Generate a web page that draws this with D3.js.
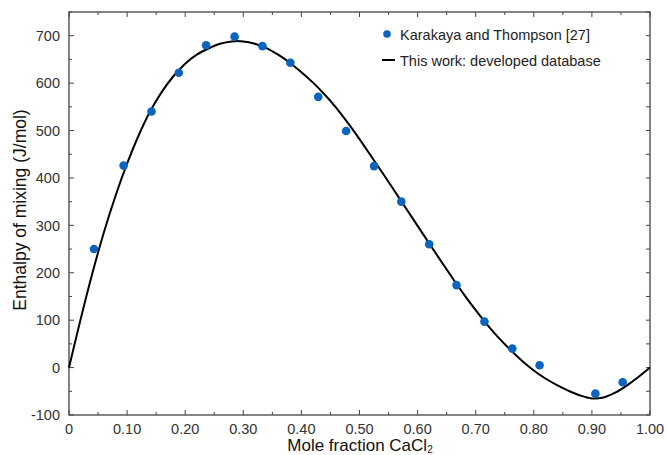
<!DOCTYPE html>
<html><head><meta charset="utf-8">
<script src="https://cdn.jsdelivr.net/npm/d3@7"></script>
<style>body{margin:0;background:#fff}svg{display:block}text{font-family:"Liberation Sans",Arial,sans-serif}</style>
</head><body><svg id="c" width="667" height="455"></svg>
<script>
const expX = [0.043,0.094,0.142,0.189,0.236,0.285,0.333,0.381,0.429,0.477,0.525,0.572,0.620,0.667,0.715,0.763,0.810,0.906,0.953];
const expY = [250,426,540,622,680,698,678,643,571,499,425,350,260,174,97,40,5,-55,-31];
const modelX = [0,0.02,0.04,0.06,0.08,0.10,0.12,0.14,0.16,0.18,0.20,0.22,0.24,0.26,0.28,0.30,0.32,0.34,0.36,0.38,0.40,0.42,0.44,0.46,0.48,0.50,0.52,0.54,0.56,0.58,0.60,0.62,0.64,0.66,0.68,0.70,0.72,0.74,0.76,0.78,0.80,0.82,0.84,0.86,0.88,0.90,0.92,0.94,0.96,0.98,1.00];
const modelY = [0,102,198,285,362,430,490,541,582,615,641,660,673,683,688,688,683,674,660,643,623,601,576,548,516,482,446,410,373,336,299,262,225,189,154,121,90,62,37,14,-6,-23,-37,-49,-59,-65,-63,-53,-38,-20,0];
const xTicks = [0,0.1,0.2,0.3,0.4,0.5,0.6,0.7,0.8,0.9,1.0];
const xTickLabels = ["0","0.10","0.20","0.30","0.40","0.50","0.60","0.70","0.80","0.90","1.00"];
const yTicks = [-100,0,100,200,300,400,500,600,700];
const legendLabels = ["Karakaya and Thompson [27]","This work: developed database"];

const svg = d3.select("#c");
const L=69,R=650,T=12,B=415;
const x = d3.scaleLinear().domain([0,1]).range([L,R]);
const y = d3.scaleLinear().domain([-100,750]).range([B,T]);
const blue="#0b64bd", ax="#444", tc="#333";

svg.append("rect").attr("x",L).attr("y",T).attr("width",R-L).attr("height",B-T)
  .attr("fill","none").attr("stroke",ax).attr("stroke-width",1.3);

const g = svg.append("g");
const xMinor = d3.range(0,1.0001,0.05);
const yMinor = d3.range(-100,750.1,50);
xMinor.forEach(v=>{
  const major = Math.abs(v*10-Math.round(v*10))<1e-6;
  const len = major?5:3;
  g.append("line").attr("x1",x(v)).attr("x2",x(v)).attr("y1",B).attr("y2",B-len).attr("stroke",ax);
  g.append("line").attr("x1",x(v)).attr("x2",x(v)).attr("y1",T).attr("y2",T+len).attr("stroke",ax);
});
yMinor.forEach(v=>{
  const major = v%100===0;
  const len = major?5:3;
  g.append("line").attr("y1",y(v)).attr("y2",y(v)).attr("x1",L).attr("x2",L+len).attr("stroke",ax);
  g.append("line").attr("y1",y(v)).attr("y2",y(v)).attr("x1",R).attr("x2",R-4).attr("stroke",ax);
});
xTicks.forEach((v,i)=>{
  svg.append("text").attr("x",x(v)).attr("y",433.5).attr("text-anchor","middle")
    .attr("font-size",14.5).attr("fill",tc).text(xTickLabels[i]);
});
yTicks.forEach(v=>{
  svg.append("text").attr("x",60).attr("y",y(v)+5.2).attr("text-anchor","end")
    .attr("font-size",14.5).attr("fill",tc).text(v);
});

const xt = svg.append("text").attr("x",360).attr("y",450.5).attr("text-anchor","middle")
  .attr("font-size",17).attr("fill","#111");
xt.append("tspan").text("Mole fraction CaCl");
xt.append("tspan").attr("font-size",10).attr("dy",2.5).text("2");
svg.append("text").attr("transform","translate(26,210) rotate(-90)").attr("text-anchor","middle")
  .attr("font-size",17.5).attr("fill","#111").text("Enthalpy of mixing (J/mol)");

const line = d3.line().x(d=>x(d[0])).y(d=>y(d[1])).curve(d3.curveCatmullRom);
svg.append("path").datum(modelX.map((v,i)=>[v,modelY[i]])).attr("d",line)
  .attr("fill","none").attr("stroke","#000").attr("stroke-width",2);

svg.append("g").selectAll("circle").data(expX.map((v,i)=>[v,expY[i]])).join("circle")
  .attr("cx",d=>x(d[0])).attr("cy",d=>y(d[1])).attr("r",4.3).attr("fill",blue);

svg.append("circle").attr("cx",387).attr("cy",34).attr("r",3.8).attr("fill",blue);
svg.append("text").attr("x",400).attr("y",39.5).attr("font-size",14.5).attr("fill","#222").text(legendLabels[0]);
svg.append("line").attr("x1",382).attr("x2",395).attr("y1",60).attr("y2",60).attr("stroke","#000").attr("stroke-width",2);
svg.append("text").attr("x",400).attr("y",65.5).attr("font-size",14.5).attr("fill","#222").text(legendLabels[1]);
</script></body></html>
